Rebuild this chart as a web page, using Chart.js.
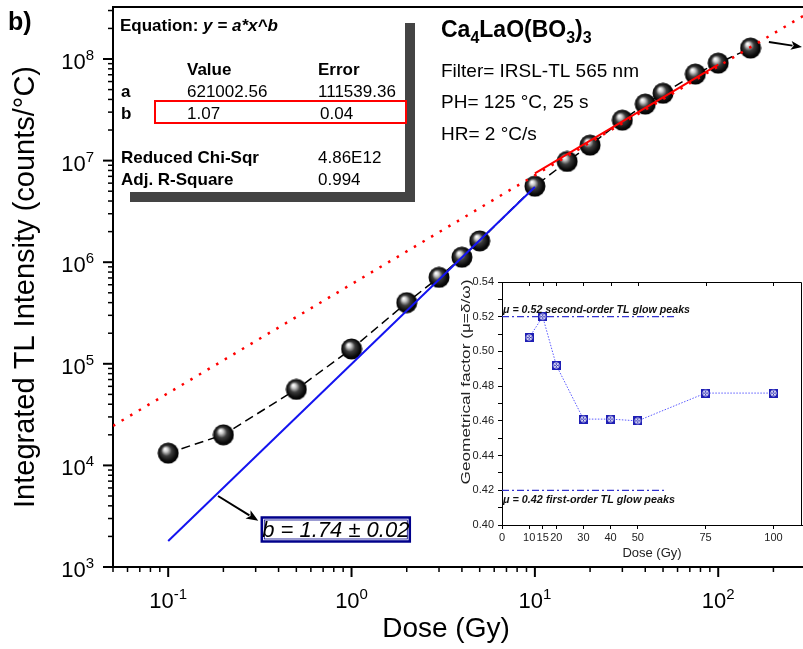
<!DOCTYPE html>
<html>
<head>
<meta charset="utf-8">
<script src="https://cdn.jsdelivr.net/npm/chart.js@4.4.0/dist/chart.umd.min.js"></script>
<style>
html, body { margin: 0; padding: 0; background: #fff; overflow: hidden; }
#wrap { position: relative; width: 803px; height: 649px; }
#main { position: absolute; left: 0; top: 0; }
#inset { position: absolute; left: 440px; top: 270px; }
</style>
</head>
<body>
<div id="wrap">
  <canvas id="main" width="803" height="649"></canvas>
  <canvas id="inset" width="363" height="297"></canvas>
</div>
<script>
// main plot: TL intensity vs dose (log-log)
var DOSE = [0.1, 0.2, 0.5, 1, 2, 3, 4, 5, 10, 15, 20, 30, 40, 50, 75, 100, 150];
var TL_INTENSITY = [1.32e4, 2.0e4, 5.6e4, 1.4e5, 4.0e5, 7.1e5, 1.12e6, 1.62e6, 5.6e6, 9.8e6, 1.42e7, 2.5e7, 3.6e7, 4.6e7, 7.1e7, 9.1e7, 1.28e8];

// fitted lines (end points)
var FIT_ALL_X = [0.05, 290];
var FIT_ALL_Y = [2.45e4, 2.65e8];
var FIT_HIGH_X = [10, 100];
var FIT_HIGH_Y = [7.5e6, 8.8e7];
var FIT_LOW_X = [0.1, 10];
var FIT_LOW_Y = [1.8e3, 5.5e6];

var X_DECADES = [-1, 0, 1, 2];
var Y_DECADES = [3, 4, 5, 6, 7, 8];

// inset: geometrical factor vs dose
var INSET_DOSE = [10, 15, 20, 30, 40, 50, 75, 100];
var GEOM_FACTOR = [0.508, 0.520, 0.492, 0.461, 0.461, 0.460, 0.476, 0.476];
var INSET_X_TICKS = [0, 10, 15, 20, 30, 40, 50, 75, 100];
var INSET_Y_TICKS = [0.40, 0.41, 0.42, 0.43, 0.44, 0.45, 0.46, 0.47, 0.48, 0.49, 0.50, 0.51, 0.52, 0.53, 0.54];
var MU_SECOND = 0.52, MU_SECOND_X = [0, 64];
var MU_FIRST = 0.42, MU_FIRST_X = [0, 60];

var FONT = '"Liberation Sans", Arial, sans-serif';

function pts(xs, ys) {
  return xs.map(function (x, i) { return { x: x, y: ys[i] }; });
}

/* point images */
function makeSphere(d) {
  var c = document.createElement('canvas');
  c.width = c.height = d;
  var g = c.getContext('2d');
  var r = d / 2;
  var grad = g.createRadialGradient(r * 0.72, r * 0.62, 0.5, r, r, r);
  grad.addColorStop(0, '#ffffff');
  grad.addColorStop(0.18, '#c8c8c8');
  grad.addColorStop(0.45, '#3c3c3c');
  grad.addColorStop(0.8, '#0a0a0a');
  grad.addColorStop(1, '#000000');
  g.fillStyle = grad;
  g.beginPath(); g.arc(r, r, r - 0.5, 0, 2 * Math.PI); g.fill();
  return c;
}

function makeMarker(d) {
  var c = document.createElement('canvas');
  c.width = c.height = d;
  var g = c.getContext('2d');
  g.fillStyle = '#1e1eb4';
  g.fillRect(0, 0, d, d);
  g.strokeStyle = '#ffffff';
  g.lineWidth = 1;
  g.beginPath(); g.arc(d / 2, d / 2, d / 2 - 1.8, 0, 2 * Math.PI); g.stroke();
  g.beginPath();
  g.moveTo(2.5, 2.5); g.lineTo(d - 2.5, d - 2.5);
  g.moveTo(d - 2.5, 2.5); g.lineTo(2.5, d - 2.5);
  g.stroke();
  return c;
}

/* drawing helpers */
function fitText(ctx, str, x, y, width, rot) {
  var w = ctx.measureText(str).width;
  ctx.save();
  ctx.translate(x, y);
  if (rot) ctx.rotate(rot);
  if (width) ctx.scale(width / w, 1);
  ctx.fillText(str, 0, 0);
  ctx.restore();
}

function drawPow(ctx, exp, x, y, align) {
  ctx.font = '22px ' + FONT;
  var wb = ctx.measureText('10').width;
  ctx.font = '15px ' + FONT;
  var we = ctx.measureText(exp).width;
  var x0 = align === 'right' ? x - wb - we : x - (wb + we) / 2;
  ctx.textAlign = 'left';
  ctx.textBaseline = 'alphabetic';
  ctx.font = '22px ' + FONT;
  ctx.fillText('10', x0, y);
  ctx.font = '15px ' + FONT;
  ctx.fillText(exp, x0 + wb, y - 9);
}

function drawArrow(ctx, x1, y1, x2, y2, head) {
  var a = Math.atan2(y2 - y1, x2 - x1);
  ctx.beginPath();
  ctx.moveTo(x1, y1);
  ctx.lineTo(x2 - Math.cos(a) * head * 0.8, y2 - Math.sin(a) * head * 0.8);
  ctx.stroke();
  ctx.beginPath();
  ctx.moveTo(x2, y2);
  ctx.lineTo(x2 - head * Math.cos(a - 0.38), y2 - head * Math.sin(a - 0.38));
  ctx.lineTo(x2 - head * 0.7 * Math.cos(a), y2 - head * 0.7 * Math.sin(a));
  ctx.lineTo(x2 - head * Math.cos(a + 0.38), y2 - head * Math.sin(a + 0.38));
  ctx.closePath();
  ctx.fill();
}

function logTicks(ctx, scale, decades, horizontal) {
  var lo = decades[0] - 2, hi = decades[decades.length - 1] + 1;
  ctx.strokeStyle = '#000';
  for (var d = lo; d <= hi; d++) {
    for (var m = 1; m <= 9; m++) {
      var v = m * Math.pow(10, d);
      if (v < scale.min * 0.999 || v > scale.max) continue;
      var p = scale.getPixelForValue(v);
      var len = m === 1 ? 10 : 5;
      ctx.lineWidth = m === 1 ? 2 : 1.5;
      ctx.beginPath();
      if (horizontal) { ctx.moveTo(p, scale.top); ctx.lineTo(p, scale.top + len); }
      else { ctx.moveTo(scale.right, p); ctx.lineTo(scale.right - len, p); }
      ctx.stroke();
    }
  }
}

var mainDecor = {
  id: 'mainDecor',
  afterDraw: function (chart) {
    var ctx = chart.ctx, xs = chart.scales.x, ys = chart.scales.y, area = chart.chartArea;
    ctx.save();
    logTicks(ctx, xs, X_DECADES, true);
    logTicks(ctx, ys, Y_DECADES, false);

    // top frame
    ctx.lineWidth = 2;
    ctx.beginPath(); ctx.moveTo(area.left - 1, area.top); ctx.lineTo(area.right, area.top); ctx.stroke();

    ctx.fillStyle = '#000';
    X_DECADES.forEach(function (d) {
      drawPow(ctx, String(d), xs.getPixelForValue(Math.pow(10, d)), 608, 'center');
    });
    Y_DECADES.forEach(function (d) {
      drawPow(ctx, String(d), 94, ys.getPixelForValue(Math.pow(10, d)) + 10, 'right');
    });

    // axis titles
    ctx.textAlign = 'center';
    ctx.textBaseline = 'alphabetic';
    ctx.font = '28px ' + FONT;
    fitText(ctx, 'Dose (Gy)', 446, 637, 0, 0);
    ctx.font = '29px ' + FONT;
    fitText(ctx, 'Integrated TL Intensity (counts/\u00B0C)', 34, (area.top + area.bottom) / 2, 0, -Math.PI / 2);

    // panel letter
    ctx.textAlign = 'left';
    ctx.font = 'bold 25px ' + FONT;
    ctx.fillText('b)', 8, 30);

    // fit results table
    ctx.fillStyle = '#444';
    ctx.fillRect(130, 23, 285, 179);
    ctx.fillStyle = '#fff';
    ctx.fillRect(115, 9, 290, 183);
    ctx.fillStyle = '#000';
    ctx.font = 'bold 17px ' + FONT;
    ctx.fillText('Equation: ', 120, 31);
    var we = ctx.measureText('Equation: ').width;
    ctx.font = 'italic bold 17px ' + FONT;
    ctx.fillText('y = a*x^b', 120 + we, 31);
    ctx.font = 'bold 17px ' + FONT;
    ctx.fillText('Value', 187, 75);
    ctx.fillText('Error', 318, 75);
    ctx.fillText('a', 121, 97);
    ctx.fillText('b', 121, 119);
    ctx.fillText('Reduced Chi-Sqr', 121, 163);
    ctx.fillText('Adj. R-Square', 121, 185);
    ctx.font = '17px ' + FONT;
    ctx.fillText('621002.56', 187, 97);
    ctx.fillText('111539.36', 318, 97);
    ctx.fillText('1.07', 187, 119);
    ctx.fillText('0.04', 320, 119);
    ctx.fillText('4.86E12', 318, 163);
    ctx.fillText('0.994', 318, 185);
    ctx.strokeStyle = '#ff0000';
    ctx.lineWidth = 2;
    ctx.strokeRect(155, 101, 251, 22);

    // sample / measurement info
    ctx.fillStyle = '#000';
    var x = 441;
    var parts = [['Ca', 0], ['4', 1], ['LaO(BO', 0], ['3', 1], [')', 0], ['3', 1]];
    parts.forEach(function (p) {
      ctx.font = p[1] ? 'bold 16px ' + FONT : 'bold 23px ' + FONT;
      ctx.fillText(p[0], x, p[1] ? 43 : 37);
      x += ctx.measureText(p[0]).width;
    });
    ctx.font = '19px ' + FONT;
    ctx.fillText('Filter= IRSL-TL 565 nm', 441, 77);
    ctx.fillText('PH= 125 \u00B0C, 25 s', 441, 108);
    ctx.fillText('HR= 2 \u00B0C/s', 441, 140);

    // arrows
    ctx.strokeStyle = '#000';
    ctx.fillStyle = '#000';
    ctx.lineWidth = 2;
    drawArrow(ctx, xs.getPixelForValue(0.187), ys.getPixelForValue(5.0e3),
      xs.getPixelForValue(0.31), ys.getPixelForValue(2.85e3), 13);
    drawArrow(ctx, xs.getPixelForValue(189), ys.getPixelForValue(1.47e8),
      802, ys.getPixelForValue(1.31e8), 12);

    // slope label for the low-dose fit
    var bx = xs.getPixelForValue(0.324), by = ys.getPixelForValue(2.34e3);
    ctx.fillStyle = '#fff';
    ctx.fillRect(bx, by - 12, 148, 24);
    ctx.strokeStyle = '#00008b';
    ctx.lineWidth = 2.5;
    ctx.strokeRect(bx, by - 12, 148, 24);
    ctx.lineWidth = 0.8;
    ctx.strokeRect(bx + 2.5, by - 9.5, 143, 19);
    ctx.fillStyle = '#000';
    ctx.font = 'italic 22px ' + FONT;
    ctx.textAlign = 'center';
    ctx.fillText('b = 1.74 \u00B1 0.02', bx + 74, by + 8);
    ctx.restore();
  }
};

var mainChart = new Chart(document.getElementById('main'), {
  type: 'line',
  data: {
    datasets: [
      {
        label: 'Fit 10-100 Gy', data: pts(FIT_HIGH_X, FIT_HIGH_Y),
        borderColor: '#ff0000', borderWidth: 2, pointRadius: 0, order: 0
      },
      {
        label: 'Fit 0.1-10 Gy', data: pts(FIT_LOW_X, FIT_LOW_Y),
        borderColor: '#1414f0', borderWidth: 2, pointRadius: 0, order: 1
      },
      {
        label: 'Fit all', data: pts(FIT_ALL_X, FIT_ALL_Y),
        borderColor: '#ff0000', borderWidth: 2.5, borderDash: [2.5, 7.5], pointRadius: 0, order: 2
      },
      {
        label: 'TL', data: pts(DOSE, TL_INTENSITY),
        borderColor: '#000', borderWidth: 1.5, borderDash: [9, 5],
        pointStyle: makeSphere(22), pointRadius: 11, order: 5
      }
    ]
  },
  options: {
    responsive: false,
    animation: false,
    events: [],
    layout: { autoPadding: false, padding: { top: 7, right: 0, left: 0, bottom: 0 } },
    plugins: { legend: { display: false }, tooltip: { enabled: false } },
    scales: {
      x: {
        type: 'logarithmic', min: 0.05, max: 290,
        afterFit: function (s) { s.height = 82; },
        ticks: { display: false },
        grid: { display: false },
        border: { display: true, color: '#000', width: 2 }
      },
      y: {
        type: 'logarithmic', min: 1e3, max: 3.25e8,
        afterFit: function (s) { s.width = 113; },
        ticks: { display: false },
        grid: { display: false },
        border: { display: true, color: '#000', width: 2 }
      }
    }
  },
  plugins: [mainDecor]
});

/* inset */
var insetDecor = {
  id: 'insetDecor',
  afterDraw: function (chart) {
    var ctx = chart.ctx, xs = chart.scales.x, ys = chart.scales.y, area = chart.chartArea;
    ctx.save();
    ctx.strokeStyle = '#000';
    ctx.lineWidth = 1;
    ctx.beginPath();
    ctx.moveTo(area.left, area.top + 0.5); ctx.lineTo(area.right - 0.5, area.top + 0.5);
    ctx.lineTo(area.right - 0.5, area.bottom);
    ctx.stroke();
    INSET_X_TICKS.forEach(function (v) {
      var p = Math.round(xs.getPixelForValue(v)) + 0.5;
      ctx.beginPath(); ctx.moveTo(p, area.top); ctx.lineTo(p, area.top + 4); ctx.stroke();
    });
    // Y title
    ctx.fillStyle = '#222';
    ctx.textAlign = 'center';
    ctx.textBaseline = 'alphabetic';
    ctx.font = '12px ' + FONT;
    fitText(ctx, 'Geometrical factor (\u03BC=\u03B4/\u03C9)', 30, 112, 205, -Math.PI / 2);
    // reference line labels
    ctx.fillStyle = '#111';
    ctx.textAlign = 'left';
    ctx.font = 'italic bold 11px ' + FONT;
    fitText(ctx, '\u03BC = 0.52 second-order TL glow peaks', xs.getPixelForValue(0) + 1,
      ys.getPixelForValue(MU_SECOND) - 4, 187, 0);
    fitText(ctx, '\u03BC = 0.42 first-order TL glow peaks', xs.getPixelForValue(0) + 1,
      ys.getPixelForValue(MU_FIRST) + 13, 172, 0);
    ctx.restore();
  }
};

var insetChart = new Chart(document.getElementById('inset'), {
  type: 'line',
  data: {
    datasets: [
      {
        label: 'mu', data: pts(INSET_DOSE, GEOM_FACTOR),
        borderColor: '#5a5aff', borderWidth: 1, borderDash: [1.5, 1.5],
        pointStyle: makeMarker(9), pointRadius: 4.5, order: 0
      },
      {
        label: 'second order', data: pts(MU_SECOND_X, [MU_SECOND, MU_SECOND]),
        borderColor: '#3434d0', borderWidth: 1.3, borderDash: [7, 3, 2, 3], pointRadius: 0, order: 1
      },
      {
        label: 'first order', data: pts(MU_FIRST_X, [MU_FIRST, MU_FIRST]),
        borderColor: '#3434d0', borderWidth: 1.3, borderDash: [7, 3, 2, 3], pointRadius: 0, order: 1
      }
    ]
  },
  options: {
    responsive: false,
    animation: false,
    events: [],
    layout: { autoPadding: false, padding: { top: 12, right: 1, left: 0, bottom: 0 } },
    plugins: { legend: { display: false }, tooltip: { enabled: false } },
    scales: {
      x: {
        type: 'linear', min: 0, max: 110.5,
        afterFit: function (s) { s.height = 42; },
        afterBuildTicks: function (s) { s.ticks = INSET_X_TICKS.map(function (v) { return { value: v }; }); },
        ticks: { autoSkip: false, maxRotation: 0, padding: 2, color: '#222', font: { family: FONT, size: 11 } },
        grid: { drawOnChartArea: false, drawTicks: true, tickLength: 4, tickColor: '#000' },
        border: { display: true, color: '#000', width: 1 },
        title: { display: true, text: 'Dose (Gy)', color: '#222', font: { family: FONT, size: 13 }, padding: { top: 0, bottom: 6 } }
      },
      y: {
        type: 'linear', min: 0.40, max: 0.54,
        afterFit: function (s) { s.width = 62; },
        afterBuildTicks: function (s) { s.ticks = INSET_Y_TICKS.map(function (v) { return { value: v }; }); },
        ticks: {
          autoSkip: false, padding: 4, color: '#222', font: { family: FONT, size: 11 },
          callback: function (v) { return Math.round(v * 100) % 2 === 0 ? v.toFixed(2) : ''; }
        },
        grid: { drawOnChartArea: false, drawTicks: true, tickLength: 4, tickColor: '#000' },
        border: { display: true, color: '#000', width: 1 }
      }
    }
  },
  plugins: [insetDecor]
});
</script>
</body>
</html>
